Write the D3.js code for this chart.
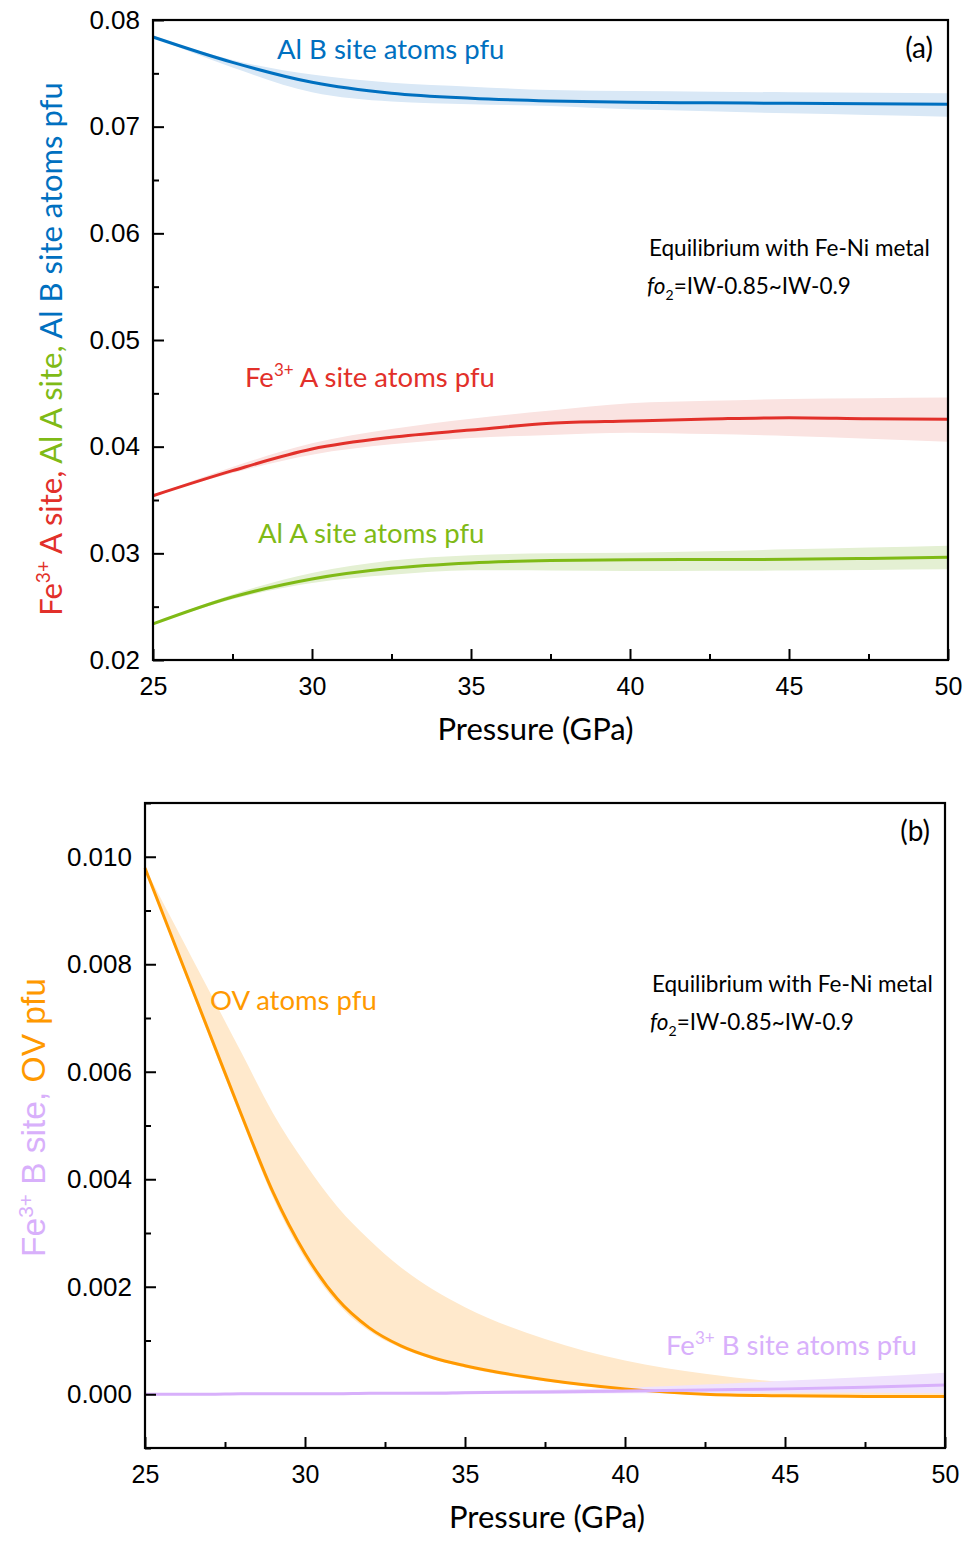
<!DOCTYPE html>
<html>
<head>
<meta charset="utf-8">
<script src="https://cdn.jsdelivr.net/npm/d3@7"></script>
<style>
  body { margin: 0; background: #fff; }
  svg { display: block; }
</style>
</head>
<body>
<script>
// panel (a) data
var pressureA = [25, 27.5, 30, 32.5, 35, 37.5, 40, 42.5, 45, 47.5, 50];
var alB = [0.07841, 0.07603, 0.07416, 0.07313, 0.07266, 0.07241, 0.07228, 0.07224, 0.07219, 0.07215, 0.0721];
var alBLow = [0.0784, 0.07555, 0.07322, 0.07235, 0.0721, 0.07194, 0.07163, 0.07145, 0.07125, 0.0711, 0.07094];
var alBHigh = [0.07842, 0.07625, 0.07488, 0.07412, 0.07375, 0.07344, 0.07334, 0.07328, 0.07322, 0.07318, 0.07313];
var feA = [0.0354, 0.03775, 0.03978, 0.04088, 0.04156, 0.04219, 0.0424, 0.04259, 0.04272, 0.04262, 0.04257];
var feALow = [0.03538, 0.03752, 0.03925, 0.04022, 0.04082, 0.0411, 0.04131, 0.04118, 0.041, 0.04075, 0.04047];
var feAHigh = [0.03542, 0.0381, 0.04032, 0.04165, 0.04262, 0.0434, 0.04407, 0.0443, 0.04447, 0.04455, 0.0446];
var alA = [0.02338, 0.0259, 0.0276, 0.0286, 0.0291, 0.02932, 0.0294, 0.02942, 0.02944, 0.02952, 0.02963];
var alALow = [0.02336, 0.0257, 0.02722, 0.028, 0.02842, 0.0284, 0.02834, 0.02836, 0.02838, 0.02844, 0.0285];
var alAHigh = [0.0234, 0.02615, 0.02815, 0.02932, 0.02982, 0.03, 0.03006, 0.0302, 0.03038, 0.03055, 0.03072];

// panel (b) data
var pressureB = [25, 26, 27, 28, 29, 30, 31, 32, 33, 34, 35, 37.5, 40, 42.5, 45, 47.5, 50];
var ov = [0.00979, 0.00826, 0.00674, 0.00522, 0.00376, 0.00262, 0.00178, 0.00124, 0.0009, 0.00068, 0.00053, 0.00027, 0.0001, 0.0, -0.00003, -0.00004, -0.00004];
var ovLow = [0.00977, 0.0082, 0.00666, 0.00514, 0.00366, 0.00252, 0.0017, 0.00118, 0.00086, 0.00065, 0.0005, 0.00024, 0.00008, -0.00002, -0.00005, -0.00006, -0.00006];
var ovHigh = [0.00979, 0.00865, 0.00751, 0.00637, 0.00523, 0.0043, 0.0035, 0.00288, 0.00236, 0.00195, 0.00162, 0.00103, 0.00063, 0.00038, 0.00022, 0.00012, 0.00006];
var feB = [0, 0, 0, 0.00001, 0.00001, 0.00001, 0.00001, 0.00002, 0.00002, 0.00002, 0.00003, 0.00004, 0.00006, 0.00008, 0.0001, 0.00013, 0.00017];
var feBLow = [0, 0, 0, 0, 0, 0, 0, 0, 0.00001, 0.00001, 0.00001, 0.00001, 0.00002, 0.00002, 0.00003, 0.00003, 0.00002];
var feBHigh = [0.00001, 0.00001, 0.00001, 0.00002, 0.00002, 0.00003, 0.00003, 0.00004, 0.00004, 0.00005, 0.00006, 0.00008, 0.00012, 0.00018, 0.00025, 0.00032, 0.0004];

var xTicks = [25, 30, 35, 40, 45, 50];
var yTicksA = [0.02, 0.03, 0.04, 0.05, 0.06, 0.07, 0.08];
var yTicksB = [0.000, 0.002, 0.004, 0.006, 0.008, 0.010];

var tickFont = "'Liberation Sans', Arial, sans-serif";
var labelFont = "Lato, 'Open Sans', sans-serif";

var svg = d3.select("body").append("svg")
  .attr("width", 966)
  .attr("height", 1541);

function drawPanel(p) {
  var x = d3.scaleLinear().domain([25, 50]).range([p.left, p.right]);
  var y = d3.scaleLinear().domain(p.yDomain).range([p.bottom, p.top]);
  var g = svg.append("g");

  // bands first, then lines
  p.series.forEach(function (s) {
    var rows = p.pressure.map(function (d, i) { return { P: d, lo: s.low[i], hi: s.high[i] }; });
    g.append("path")
      .datum(rows)
      .attr("fill", s.band)
      .attr("d", d3.area()
        .curve(d3.curveMonotoneX)
        .x(function (d) { return x(d.P); })
        .y0(function (d) { return y(d.lo); })
        .y1(function (d) { return y(d.hi); }));
  });
  p.series.forEach(function (s) {
    var rows = p.pressure.map(function (d, i) { return { P: d, v: s.mid[i] }; });
    g.append("path")
      .datum(rows)
      .attr("fill", "none")
      .attr("stroke", s.color)
      .attr("stroke-width", 3)
      .attr("d", d3.line()
        .curve(d3.curveMonotoneX)
        .x(function (d) { return x(d.P); })
        .y(function (d) { return y(d.v); }));
  });

  // axes, ticks pointing inward
  var xMinor = d3.range(27.5, 50, 5);
  var yMinor = d3.range(p.yDomain[0], p.yDomain[1] + 1e-9, p.yMinorStep).filter(function (v) {
    return !p.yTicks.some(function (t) { return Math.abs(t - v) < 1e-9; });
  });

  g.append("g")
    .attr("transform", "translate(0," + p.bottom + ")")
    .call(d3.axisTop(x).tickValues(xTicks).tickSize(11).tickFormat(""))
    .call(function (a) { a.select(".domain").remove(); a.selectAll("line").attr("stroke-width", 2); });
  g.append("g")
    .attr("transform", "translate(0," + p.bottom + ")")
    .call(d3.axisTop(x).tickValues(xMinor).tickSize(6).tickFormat(""))
    .call(function (a) { a.select(".domain").remove(); a.selectAll("line").attr("stroke-width", 2); });
  g.append("g")
    .attr("transform", "translate(0," + p.bottom + ")")
    .call(d3.axisBottom(x).tickValues(xTicks).tickSize(0).tickPadding(17).tickFormat(d3.format("d")))
    .call(function (a) {
      a.select(".domain").remove();
      a.selectAll("text").attr("font-family", tickFont).attr("font-size", 25).attr("fill", "#000");
    });

  g.append("g")
    .attr("transform", "translate(" + p.left + ",0)")
    .call(d3.axisRight(y).tickValues(p.yTicks).tickSize(11).tickFormat(""))
    .call(function (a) { a.select(".domain").remove(); a.selectAll("line").attr("stroke-width", 2); });
  g.append("g")
    .attr("transform", "translate(" + p.left + ",0)")
    .call(d3.axisRight(y).tickValues(yMinor).tickSize(6).tickFormat(""))
    .call(function (a) { a.select(".domain").remove(); a.selectAll("line").attr("stroke-width", 2); });
  g.append("g")
    .attr("transform", "translate(" + p.left + ",0)")
    .call(d3.axisLeft(y).tickValues(p.yTicks).tickSize(0).tickPadding(13).tickFormat(d3.format(p.yFormat)))
    .call(function (a) {
      a.select(".domain").remove();
      a.selectAll("text").attr("font-family", tickFont).attr("font-size", 26).attr("fill", "#000");
    });

  // frame
  g.append("rect")
    .attr("x", p.left).attr("y", p.top)
    .attr("width", p.right - p.left).attr("height", p.bottom - p.top)
    .attr("fill", "none").attr("stroke", "#000").attr("stroke-width", 2.2);

  // x title
  g.append("text")
    .attr("x", (p.left + p.right) / 2 + p.xTitleShift).attr("y", p.bottom + 80)
    .attr("text-anchor", "middle")
    .attr("font-family", labelFont).attr("font-size", 31)
    .text("Pressure (GPa)");

  // y title with coloured parts
  var yt = g.append("text")
    .attr("transform", "translate(" + p.yTitleX + "," + ((p.top + p.bottom) / 2 + p.yTitleShift) + ") rotate(-90)")
    .attr("text-anchor", "middle")
    .attr("font-family", p.yTitleFont).attr("font-size", p.yTitleSize);
  p.yTitle.forEach(function (part) {
    var t = yt.append("tspan").attr("fill", part.color).text(part.text);
    if (part.sup) t.attr("font-size", p.yTitleSize * 0.62).attr("dy", -12);
    if (part.after) t.attr("dy", 12);
  });

  // panel letter
  g.append("text")
    .attr("x", p.right - 15).attr("y", p.top + 38)
    .attr("text-anchor", "end")
    .attr("font-family", labelFont).attr("font-size", 28)
    .text(p.letter);

  // conditions note
  g.append("text")
    .attr("x", p.noteX).attr("y", p.noteY)
    .attr("font-family", labelFont).attr("font-size", 22.5)
    .text("Equilibrium with Fe-Ni metal");
  var fo = g.append("text")
    .attr("x", p.noteX - 2).attr("y", p.noteY + 38)
    .attr("font-family", labelFont).attr("font-size", 22.5);
  fo.append("tspan").attr("font-style", "italic").text("fo");
  fo.append("tspan").attr("font-size", 14).attr("dy", 6).text("2");
  fo.append("tspan").attr("dy", -6).text("=IW-0.85~IW-0.9");

  // curve labels
  p.labels.forEach(function (l) {
    var t = g.append("text")
      .attr("x", l.x).attr("y", l.y)
      .attr("font-family", labelFont).attr("font-size", 27.5)
      .attr("fill", l.color);
    l.parts.forEach(function (part) {
      var s = t.append("tspan").text(part.text);
      if (part.sup) s.attr("font-size", 17).attr("dy", -11);
      if (part.after) s.attr("dy", 11);
    });
  });
}

var cBlue = "#0070c0", cRed = "#e2302a", cGreen = "#7fba16", cOrange = "#ff9900", cPurple = "#d8b0fb";

drawPanel({
  left: 153, right: 948, top: 20, bottom: 660,
  yDomain: [0.02, 0.08], yTicks: yTicksA, yMinorStep: 0.005, yFormat: ".2f",
  pressure: pressureA,
  series: [
    { mid: alB, low: alBLow, high: alBHigh, color: cBlue, band: "#d9e8f6" },
    { mid: feA, low: feALow, high: feAHigh, color: cRed, band: "#fae3e1" },
    { mid: alA, low: alALow, high: alAHigh, color: cGreen, band: "#e4f0d3" }
  ],
  xTitleShift: -15,
  yTitleX: 62, yTitleShift: 9, yTitleSize: 31, yTitleFont: labelFont,
  yTitle: [
    { text: "Fe", color: cRed },
    { text: "3+", color: cRed, sup: true },
    { text: " A site, ", color: cRed, after: true },
    { text: "Al A site, ", color: cGreen },
    { text: "Al B site atoms pfu", color: cBlue }
  ],
  letter: "(a)", noteX: 649, noteY: 256,
  labels: [
    { x: 277, y: 59, color: cBlue, parts: [{ text: "Al B site atoms pfu" }] },
    { x: 245, y: 387, color: cRed, parts: [{ text: "Fe" }, { text: "3+", sup: true }, { text: " A site atoms pfu", after: true }] },
    { x: 258, y: 543, color: cGreen, parts: [{ text: "Al A site atoms pfu" }] }
  ]
});

drawPanel({
  left: 145, right: 945, top: 803, bottom: 1448,
  yDomain: [-0.001, 0.011], yTicks: yTicksB, yMinorStep: 0.001, yFormat: ".3f",
  pressure: pressureB,
  series: [
    { mid: ov, low: ovLow, high: ovHigh, color: cOrange, band: "#ffe9cc" },
    { mid: feB, low: feBLow, high: feBHigh, color: cPurple, band: "#f0e3fd" }
  ],
  xTitleShift: 2,
  yTitleX: 45, yTitleShift: -8, yTitleSize: 33.5, yTitleFont: tickFont,
  yTitle: [
    { text: "Fe", color: cPurple },
    { text: "3+", color: cPurple, sup: true },
    { text: " B site, ", color: cPurple, after: true },
    { text: "OV pfu", color: cOrange }
  ],
  letter: "(b)", noteX: 652, noteY: 992,
  labels: [
    { x: 210, y: 1010, color: cOrange, parts: [{ text: "OV atoms pfu" }] },
    { x: 666, y: 1355, color: cPurple, parts: [{ text: "Fe" }, { text: "3+", sup: true }, { text: " B site atoms pfu", after: true }] }
  ]
});
</script>
</body>
</html>
